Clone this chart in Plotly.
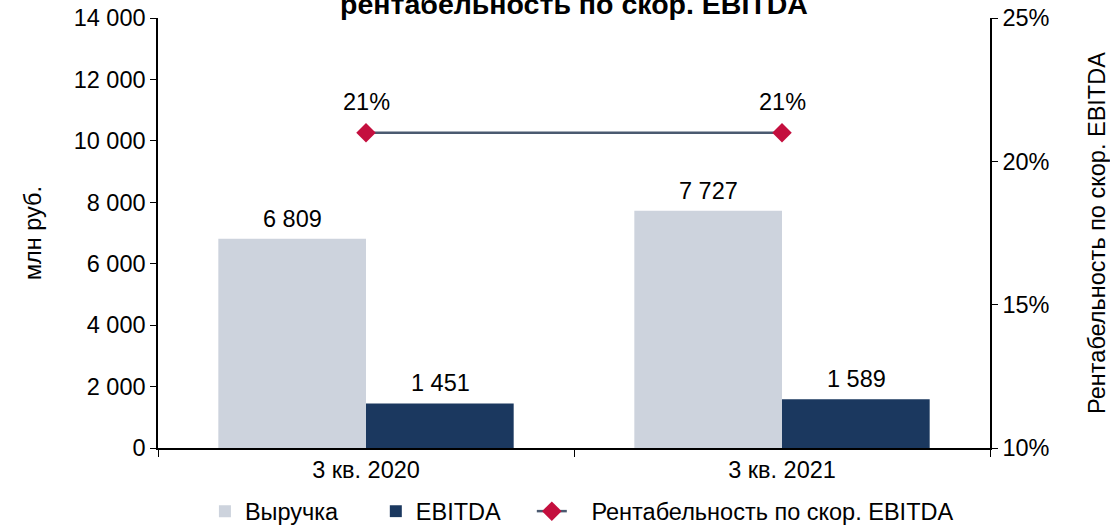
import plotly.graph_objects as go

categories = ["3 кв. 2020", "3 кв. 2021"]
revenue = [6809, 7727]
ebitda = [1451, 1589]
margin = [0.21, 0.21]
margin_labels = ["21%", "21%"]
series_names = ["Выручка", "EBITDA", "Рентабельность по скор. EBITDA"]

FONT = "Liberation Sans, Arial, sans-serif"
FS = 23.5
C_REV = "#CDD3DD"
C_EBITDA = "#1B385F"
C_LINE = "#4B5A70"
C_MARK = "#C40F3E"
NB = "\u00a0"

fig = go.Figure()
fig.add_trace(go.Bar(x=categories, y=revenue, name=series_names[0] + NB * 5, marker_color=C_REV,
                     marker_line_width=0))
fig.add_trace(go.Bar(x=categories, y=ebitda, name=series_names[1] + NB * 4, marker_color=C_EBITDA,
                     marker_line_width=0))
fig.add_trace(go.Scatter(x=categories, y=margin, name=NB * 3 + series_names[2],
                         yaxis="y2", mode="lines+markers",
                         line=dict(color=C_LINE, width=2.5),
                         marker=dict(symbol="diamond", size=15, color=C_MARK)))

annotations = []
for i, c in enumerate(categories):
    annotations.append(dict(x=c, y=revenue[i], xref="x", yref="y", text=f"{revenue[i]:,}".replace(",", " "),
                            showarrow=False, xshift=-74, yshift=20, font=dict(size=FS, color="black", family=FONT)))
    annotations.append(dict(x=c, y=ebitda[i], xref="x", yref="y", text=f"{ebitda[i]:,}".replace(",", " "),
                            showarrow=False, xshift=74, yshift=20, font=dict(size=FS, color="black", family=FONT)))
    annotations.append(dict(x=c, y=margin[i], xref="x", yref="y2", text=margin_labels[i],
                            showarrow=False, yshift=31, font=dict(size=FS, color="black", family=FONT)))

annotations.append(dict(x=0.5, xref="paper", y=1.033, yref="paper", yanchor="middle",
                        text="<b>рентабельность по скор. EBITDA</b>", showarrow=False,
                        font=dict(size=28.5, color="black", family=FONT)))

fig.update_layout(
    width=1110, height=525,
    margin=dict(l=158, r=120, t=18, b=77),
    paper_bgcolor="white", plot_bgcolor="white",
    separators=", ",
    font=dict(family=FONT, size=FS, color="black"),
    barmode="group", bargap=0.29, bargroupgap=0,
    showlegend=True,
    legend=dict(orientation="h", x=0.0564, xanchor="left", yref="container", y=0.026, yanchor="middle",
                font=dict(size=FS, family=FONT), traceorder="normal",
                bgcolor="rgba(0,0,0,0)"),
    xaxis=dict(showline=True, linecolor="black", linewidth=1.5, ticks="outside", automargin=False,
               tickson="boundaries", ticklen=7, tickcolor="black", tickfont=dict(size=FS)),
    yaxis=dict(range=[0, 14000], dtick=2000, tickformat=",d", showline=True, linecolor="black",
               linewidth=1.5, ticks="outside", ticklen=6, tickcolor="black", showgrid=False,
               zeroline=False, automargin=False,
               title=dict(text="млн руб.", font=dict(size=FS), standoff=25),
               tickfont=dict(size=FS)),
    yaxis2=dict(range=[0.10, 0.25], dtick=0.05, tickformat=".0%", overlaying="y", side="right",
                showline=True, linecolor="black", linewidth=1.5, ticks="outside", ticklen=6,
                tickcolor="black", showgrid=False, zeroline=False, automargin=False,
                title=dict(text="Рентабельность по скор. EBITDA", font=dict(size=FS), standoff=44),
                tickfont=dict(size=FS)),
    annotations=annotations,
)

fig.write_html("out.html", config={"displayModeBar": False},
               post_script="document.body.style.margin='0';document.body.style.padding='0';")
